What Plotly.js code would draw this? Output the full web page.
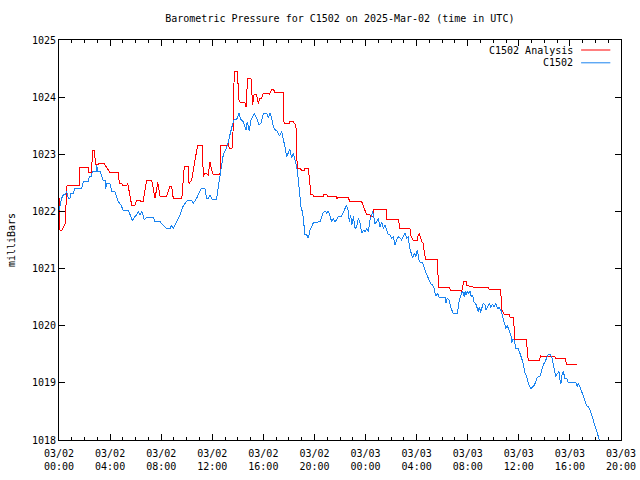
<!DOCTYPE html>
<html>
<head>
<meta charset="utf-8">
<script src="https://cdn.plot.ly/plotly-3.0.1.min.js"></script>
<style>html,body{margin:0;padding:0;background:#fff;}#chart{width:640px;height:480px;}
.scatterlayer path{shape-rendering:crispEdges;}</style>
</head>
<body>
<div id="chart"></div>
<script>
// Hours since 2025-03-02 00:00 UTC
const analysisHours = [0,0.08,0.21,0.34,0.47,0.63,1.57,1.64,2.29,2.35,2.56,2.61,2.76,2.87,3.08,3.13,3.52,3.99,4.64,4.72,4.91,5.01,5.30,5.38,5.56,5.69,5.95,6.08,6.34,6.42,6.58,6.87,7.26,7.52,7.73,7.91,8.43,8.69,8.82,8.95,9.61,9.81,10.12,10.18,10.39,10.49,10.65,10.86,11.22,11.30,11.43,11.69,11.82,11.95,12.08,12.60,12.68,13.13,13.25,13.33,13.52,13.60,13.72,13.96,14.09,14.23,14.56,14.64,14.77,15.03,15.16,15.27,15.48,15.60,15.74,15.87,16.00,16.39,16.47,16.58,16.65,16.78,16.91,17.56,17.62,18.03,18.08,18.34,18.55,18.63,18.66,18.87,19.00,19.20,19.26,19.52,19.65,19.73,19.86,19.96,20.69,20.75,20.96,21.06,21.74,21.76,21.84,22.65,22.78,23.70,23.80,23.96,24.09,24.35,24.43,24.58,24.66,25.60,25.66,26.56,26.70,27.48,27.53,27.69,28.05,28.13,28.21,28.32,28.39,28.52,28.60,28.73,29.62,29.67,29.70,30.56,30.67,31.45,31.53,31.61,31.66,31.87,31.92,32.05,32.12,32.39,32.44,33.61,33.69,34.58,34.66,34.86,35.25,35.31,35.57,35.65,35.66,35.70,36.62,36.66,36.74,37.13,37.21,37.34,37.40,37.60,37.71,38.44,38.57,38.83,38.91,39.22,39.35,39.61,39.75,40.58];
const analysisValues = [1022.24,1021.67,1021.67,1021.73,1021.78,1022.46,1022.46,1022.77,1022.77,1022.68,1022.68,1023.06,1023.06,1022.82,1022.82,1022.84,1022.84,1022.68,1022.68,1022.49,1022.49,1022.45,1022.45,1022.49,1022.29,1022.11,1022.11,1022.20,1022.20,1022.17,1022.17,1022.55,1022.55,1022.23,1022.51,1022.27,1022.27,1022.44,1022.44,1022.22,1022.22,1022.79,1022.79,1022.49,1022.55,1022.72,1022.90,1023.16,1023.16,1022.61,1022.67,1022.64,1022.87,1022.72,1022.64,1022.64,1023.15,1023.15,1023.19,1023.10,1023.10,1023.14,1024.45,1024.45,1023.95,1023.90,1023.90,1023.83,1024.33,1024.33,1023.86,1024.04,1024.04,1023.89,1023.98,1023.98,1024.07,1024.07,1024.04,1024.10,1024.14,1024.14,1024.08,1024.08,1023.54,1023.54,1023.57,1023.57,1023.51,1022.90,1022.75,1022.75,1022.72,1022.72,1022.75,1022.75,1022.49,1022.29,1022.29,1022.26,1022.26,1022.30,1022.30,1022.26,1022.26,1022.23,1022.24,1022.24,1022.17,1022.17,1022.11,1022.03,1021.94,1021.94,1021.91,1021.91,1022.04,1022.04,1021.86,1021.86,1021.70,1021.70,1021.59,1021.50,1021.49,1021.59,1021.62,1021.53,1021.47,1021.44,1021.27,1021.16,1021.16,1020.92,1020.67,1020.67,1020.61,1020.61,1020.60,1020.68,1020.77,1020.77,1020.71,1020.71,1020.68,1020.68,1020.67,1020.67,1020.63,1020.63,1020.29,1020.20,1020.20,1020.15,1020.15,1019.93,1019.87,1019.76,1019.76,1019.52,1019.40,1019.40,1019.41,1019.41,1019.40,1019.40,1019.47,1019.47,1019.46,1019.46,1019.42,1019.42,1019.43,1019.43,1019.32,1019.32];

const stationHours = [0,0.21,0.34,0.47,0.60,0.73,0.86,0.94,1.12,1.25,1.78,1.90,2.29,2.37,2.51,2.61,2.90,2.95,3.05,3.21,3.44,3.60,3.65,3.73,3.99,4.13,4.38,4.52,4.64,4.85,5.03,5.43,5.64,5.74,5.95,6.08,6.21,6.34,6.47,6.58,6.68,6.87,7.38,7.52,7.91,8.17,8.43,8.69,8.82,8.95,9.21,9.47,9.73,10.07,10.39,10.51,10.78,10.91,11.12,11.43,11.56,11.69,11.82,12.00,12.34,12.47,12.60,12.74,12.86,12.99,13.13,13.25,13.39,13.57,13.70,13.91,14.09,14.23,14.43,14.64,14.74,14.90,15.03,15.29,15.48,15.66,15.81,16.00,16.26,16.39,16.52,16.65,16.78,16.91,17.09,17.25,17.43,17.56,17.69,17.83,17.95,18.08,18.22,18.34,18.48,18.61,18.71,18.81,18.87,18.95,19.08,19.18,19.26,19.39,19.52,19.65,19.78,19.91,20.43,20.56,20.69,20.83,20.96,21.08,21.22,21.35,21.47,21.61,21.74,21.87,22.13,22.26,22.39,22.52,22.65,22.73,22.84,22.92,23.05,23.18,23.31,23.43,23.57,23.70,23.82,23.96,24.09,24.22,24.35,24.48,24.56,24.66,24.74,24.87,25.00,25.13,25.26,25.39,25.52,25.66,25.78,25.91,26.05,26.17,26.31,26.44,26.56,26.70,26.83,26.96,27.09,27.22,27.35,27.43,27.54,27.69,27.82,27.95,28.05,28.13,28.21,28.48,28.57,28.73,28.86,28.99,29.12,29.25,29.36,29.44,29.52,29.62,29.77,30.22,30.30,30.40,30.53,30.67,30.79,30.87,31.18,31.26,31.34,31.45,31.57,31.66,31.73,31.79,31.87,31.97,32.05,32.18,32.26,32.39,32.49,32.62,32.71,32.83,32.91,33.02,33.09,33.22,33.35,33.44,33.56,33.69,33.82,33.95,34.08,34.21,34.34,34.47,34.60,34.74,34.86,34.99,35.09,35.23,35.40,35.44,35.52,35.62,35.78,35.96,36.09,36.22,36.35,36.48,36.62,36.74,36.87,36.95,37.08,37.21,37.34,37.44,37.65,37.78,37.91,38.05,38.18,38.31,38.44,38.57,38.69,38.78,38.89,38.96,39.05,39.14,39.22,39.30,39.40,39.48,39.61,39.75,39.88,40.48,40.58,40.66,40.79,40.92,41.05,41.18,41.32,41.44,41.57,41.70,41.83,41.96,42.09,42.22,42.35];
const stationValues = [1022.02,1022.23,1022.29,1022.29,1022.35,1022.23,1022.23,1022.32,1022.32,1022.40,1022.40,1022.52,1022.52,1022.61,1022.61,1022.70,1022.70,1022.81,1022.70,1022.70,1022.55,1022.55,1022.40,1022.49,1022.49,1022.35,1022.35,1022.26,1022.17,1022.11,1022.02,1022.02,1021.91,1021.84,1021.91,1021.94,1022.00,1021.94,1022.00,1021.94,1021.85,1021.90,1021.90,1021.82,1021.82,1021.76,1021.70,1021.70,1021.76,1021.70,1021.82,1021.94,1022.10,1022.20,1022.20,1022.14,1022.23,1022.29,1022.40,1022.40,1022.23,1022.23,1022.29,1022.21,1022.21,1022.43,1022.64,1022.84,1022.99,1023.05,1023.12,1023.22,1023.37,1023.51,1023.60,1023.61,1023.72,1023.61,1023.57,1023.43,1023.57,1023.41,1023.60,1023.72,1023.63,1023.51,1023.54,1023.72,1023.72,1023.63,1023.72,1023.63,1023.48,1023.43,1023.40,1023.32,1023.40,1023.28,1023.13,1022.96,1023.02,1023.09,1022.93,1023.02,1022.90,1022.78,1022.61,1022.35,1022.14,1022.08,1021.97,1021.73,1021.59,1021.59,1021.53,1021.67,1021.73,1021.80,1021.82,1021.91,1021.98,1022.01,1021.97,1022.01,1021.91,1021.82,1021.88,1021.82,1021.85,1021.91,1021.92,1022.00,1022.05,1022.11,1022.00,1021.82,1021.94,1021.76,1021.91,1021.70,1021.73,1021.88,1021.79,1021.62,1021.67,1021.65,1021.70,1021.65,1021.85,1021.94,1022.00,1021.88,1021.79,1021.82,1021.88,1021.73,1021.82,1021.70,1021.76,1021.67,1021.59,1021.59,1021.53,1021.56,1021.41,1021.50,1021.56,1021.53,1021.50,1021.56,1021.62,1021.53,1021.56,1021.38,1021.30,1021.18,1021.27,1021.21,1021.33,1021.20,1021.12,1021.10,1021.03,1020.92,1020.86,1020.79,1020.73,1020.71,1020.66,1020.57,1020.52,1020.57,1020.50,1020.50,1020.40,1020.48,1020.45,1020.32,1020.26,1020.21,1020.21,1020.33,1020.45,1020.52,1020.60,1020.57,1020.51,1020.60,1020.54,1020.61,1020.56,1020.61,1020.51,1020.54,1020.42,1020.39,1020.32,1020.25,1020.33,1020.23,1020.30,1020.39,1020.36,1020.27,1020.33,1020.39,1020.32,1020.38,1020.33,1020.39,1020.30,1020.32,1020.27,1020.16,1020.04,1019.95,1020.01,1019.92,1019.81,1019.70,1019.76,1019.75,1019.60,1019.60,1019.53,1019.43,1019.34,1019.17,1019.11,1018.99,1018.93,1018.90,1018.93,1018.96,1019.02,1019.10,1019.11,1019.23,1019.31,1019.37,1019.43,1019.50,1019.50,1019.46,1019.34,1019.23,1019.11,1019.14,1019.17,1019.20,1019.05,1018.99,1019.17,1019.20,1019.08,1019.08,1019.00,1019.00,1018.93,1018.99,1018.93,1018.84,1018.76,1018.67,1018.60,1018.58,1018.53,1018.44,1018.35,1018.26,1018.15,1018.06,1017.97];

const seriesNames = ["C1502 Analysis", "C1502"];
const seriesColors = ["#ff0000", "#1a84f0"];
const xTickVals = [0,4,8,12,16,20,24,28,32,36,40,44];
const xTickText = ["03/02<br>00:00","03/02<br>04:00","03/02<br>08:00","03/02<br>12:00","03/02<br>16:00","03/02<br>20:00","03/03<br>00:00","03/03<br>04:00","03/03<br>08:00","03/03<br>12:00","03/03<br>16:00","03/03<br>20:00"];
const yTickVals = [1018,1019,1020,1021,1022,1023,1024,1025];
const titleText = "Barometric Pressure for C1502 on 2025-Mar-02 (time in UTC)";
const yTitle = "milliBars";

const FONT = "DejaVu Sans Mono, Liberation Mono, monospace";

const traces = [
  {x: analysisHours, y: analysisValues, mode: "lines", name: seriesNames[0],
   line: {color: seriesColors[0], width: 1}, showlegend: false},
  {x: stationHours, y: stationValues, mode: "lines", name: seriesNames[1],
   line: {color: seriesColors[1], width: 1}, showlegend: false}
];

const legendY = [0.975, 0.943];
const annotations = seriesNames.map((n, i) => ({
  xref: "paper", yref: "paper", x: 0.918, y: legendY[i],
  xanchor: "right", yanchor: "middle", text: n, showarrow: false,
  font: {family: FONT, size: 10, color: "#000"}
}));
const shapes = seriesNames.map((n, i) => ({
  type: "line", xref: "paper", yref: "paper",
  x0: 0.929, x1: 0.981, y0: legendY[i], y1: legendY[i],
  line: {color: seriesColors[i], width: 1}
}));

const layout = {
  width: 640, height: 480,
  margin: {l: 59, r: 19, t: 40, b: 40, pad: 0},
  paper_bgcolor: "#fff", plot_bgcolor: "#fff",
  font: {family: FONT, size: 10, color: "#000"},
  title: {text: titleText, x: 0.531, xanchor: "center", y: 0.961, yanchor: "middle",
          font: {family: FONT, size: 10, color: "#000"}},
  xaxis: {
    range: [0, 44], tickmode: "array", tickvals: xTickVals, ticktext: xTickText,
    ticks: "inside", ticklen: 6, tickwidth: 1, tickcolor: "#000",
    showline: true, linecolor: "#000", linewidth: 1, mirror: "allticks",
    showgrid: false, zeroline: false, fixedrange: true, ticklabelstandoff: 4,
    minor: {tickmode: "linear", tick0: 0, dtick: 1, ticks: "inside", ticklen: 3, tickcolor: "#000", showgrid: false},
    tickfont: {family: FONT, size: 10, color: "#000"}
  },
  yaxis: {
    range: [1018, 1025], tickmode: "array", tickvals: yTickVals,
    ticktext: yTickVals.map(String),
    ticks: "inside", ticklen: 6, tickwidth: 1, tickcolor: "#000",
    showline: true, linecolor: "#000", linewidth: 1, mirror: "allticks",
    showgrid: false, zeroline: false, fixedrange: true,
    tickfont: {family: FONT, size: 10, color: "#000"},
    title: {text: yTitle, standoff: 14, font: {family: FONT, size: 10, color: "#000"}}
  },
  annotations: annotations,
  shapes: shapes,
  showlegend: false
};

Plotly.newPlot("chart", traces, layout, {staticPlot: true, displayModeBar: false});
</script>
</body>
</html>
